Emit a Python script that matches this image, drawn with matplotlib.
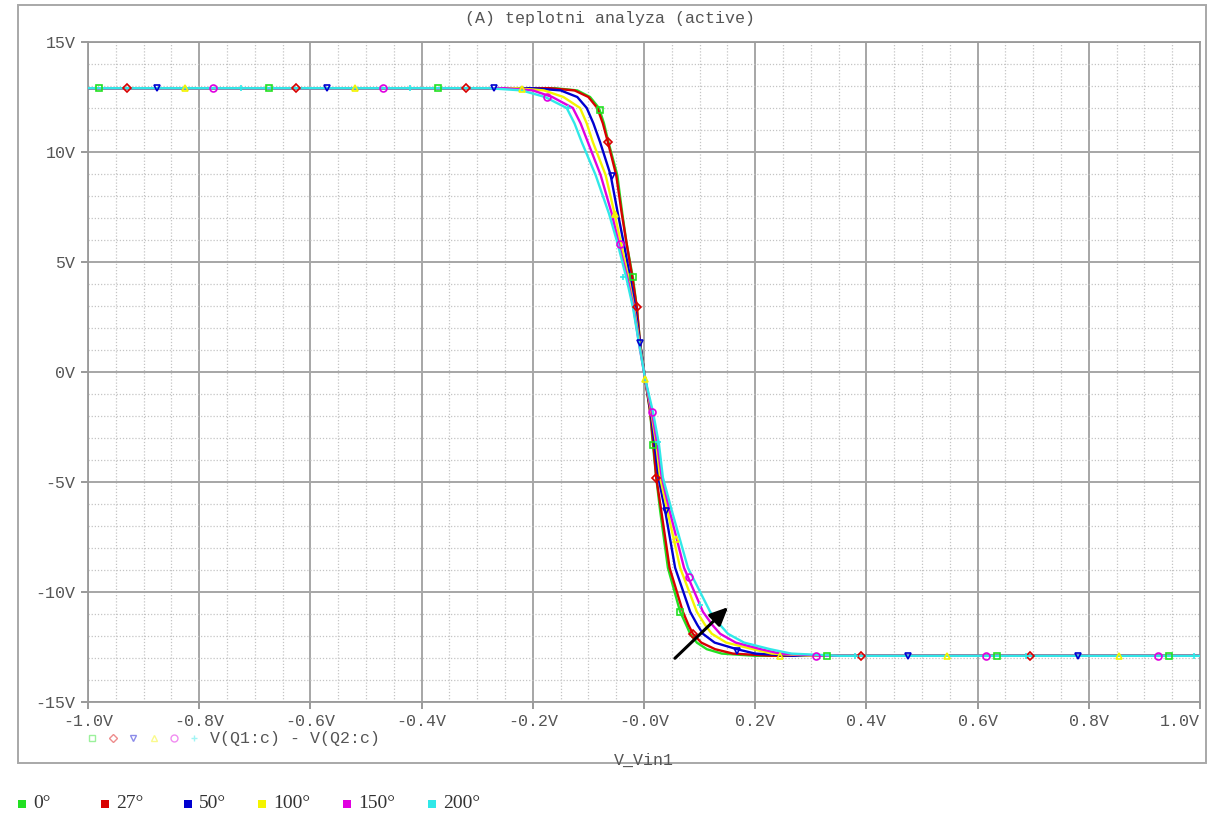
'''
    PSpice style temperature sweep of a differential pair output
'''

import numpy as np
import matplotlib.pyplot as plt
from matplotlib.patches import Rectangle

# output voltage levels (V) at which the traces were read
v_levels = [12.9, 12.8, 12.5, 12.0, 11.3, 10.45, 8.95, 7.2, 5.8, 4.3, 2.95, 1.3, -0.3,
            -1.8, -3.3, -4.8, -6.3, -8.9, -10.9, -11.5, -11.9, -12.3, -12.6, -12.8, -12.9]

# input voltage (V) where each trace reaches the levels above
x_t0 = [-0.16, -0.12, -0.097, -0.081, -0.072, -0.064, -0.048, -0.039, -0.031, -0.020, -0.013, -0.007, 0.002,
        0.011, 0.016, 0.022, 0.029, 0.043, 0.065, 0.076, 0.083, 0.095, 0.113, 0.14, 0.20]
x_t27 = [-0.17, -0.125, -0.10, -0.084, -0.074, -0.065, -0.050, -0.040, -0.031, -0.021, -0.013, -0.007, 0.002,
         0.011, 0.017, 0.022, 0.031, 0.046, 0.070, 0.080, 0.088, 0.103, 0.128, 0.16, 0.23]
x_t50 = [-0.20, -0.15, -0.12, -0.103, -0.091, -0.079, -0.060, -0.047, -0.036, -0.025, -0.016, -0.007, 0.002,
         0.012, 0.019, 0.026, 0.038, 0.056, 0.083, 0.096, 0.106, 0.127, 0.167, 0.20, 0.27]
x_t100 = [-0.23, -0.18, -0.145, -0.115, -0.103, -0.092, -0.069, -0.053, -0.041, -0.028, -0.018, -0.008, 0.002,
          0.013, 0.022, 0.029, 0.042, 0.065, 0.095, 0.110, 0.122, 0.148, 0.196, 0.23, 0.30]
x_t150 = [-0.25, -0.20, -0.165, -0.128, -0.114, -0.101, -0.078, -0.058, -0.045, -0.030, -0.019, -0.009, 0.002,
          0.014, 0.024, 0.032, 0.046, 0.072, 0.106, 0.123, 0.137, 0.165, 0.21, 0.245, 0.32]
x_t200 = [-0.28, -0.22, -0.178, -0.139, -0.125, -0.112, -0.087, -0.063, -0.047, -0.032, -0.020, -0.009, 0.002,
          0.016, 0.027, 0.034, 0.050, 0.079, 0.119, 0.137, 0.151, 0.18, 0.227, 0.265, 0.35]

# sweep end points
x_start, v_start = -1.0, 12.9
x_end, v_end = 1.0, -12.9

# trace markers as they appear in the probe window
mk_x_t0 = [-0.98, -0.675, -0.37, -0.079, -0.020, 0.016, 0.065, 0.33, 0.635, 0.945]
mk_v_t0 = [12.9, 12.9, 12.9, 11.9, 4.3, -3.3, -10.9, -12.9, -12.9, -12.9]
mk_x_t27 = [-0.93, -0.625, -0.32, -0.065, -0.013, 0.022, 0.088, 0.39, 0.695]
mk_v_t27 = [12.9, 12.9, 12.9, 10.45, 2.95, -4.8, -11.9, -12.9, -12.9]
mk_x_t50 = [-0.875, -0.57, -0.27, -0.058, -0.007, 0.040, 0.167, 0.475, 0.78]
mk_v_t50 = [12.9, 12.9, 12.9, 8.9, 1.3, -6.3, -12.7, -12.9, -12.9]
mk_x_t100 = [-0.825, -0.52, -0.22, -0.052, 0.002, 0.058, 0.245, 0.545, 0.855]
mk_v_t100 = [12.9, 12.9, 12.85, 7.2, -0.3, -7.6, -12.9, -12.9, -12.9]
mk_x_t150 = [-0.775, -0.47, -0.175, -0.043, 0.014, 0.081, 0.31, 0.615, 0.925]
mk_v_t150 = [12.9, 12.9, 12.5, 5.8, -1.8, -9.3, -12.9, -12.9, -12.9]
mk_x_t200 = [-0.725, -0.42, -0.137, -0.038, 0.025, 0.10, 0.38, 0.687, 0.99]
mk_v_t200 = [12.9, 12.9, 12.0, 4.3, -3.2, -10.6, -12.9, -12.9, -12.9]

temp_labels = ['0°', '27°', '50°', '100°', '150°', '200°']
colors = ['#22e022', '#d80000', '#0000d0', '#f4f400', '#e000e0', '#30e8e8']
markers = ['s', 'D', 'v', '^', 'o', '+']

x_ticks = [-1.0, -0.8, -0.6, -0.4, -0.2, 0.0, 0.2, 0.4, 0.6, 0.8, 1.0]
x_tick_labels = ['-1.0V', '-0.8V', '-0.6V', '-0.4V', '-0.2V', '-0.0V',
                 '0.2V', '0.4V', '0.6V', '0.8V', '1.0V']
y_ticks = [-15, -10, -5, 0, 5, 10, 15]
y_tick_labels = ['-15V', '-10V', '-5V', '0V', '5V', '10V', '15V']

traces_x = [x_t0, x_t27, x_t50, x_t100, x_t150, x_t200]
marks_x = [mk_x_t0, mk_x_t27, mk_x_t50, mk_x_t100, mk_x_t150, mk_x_t200]
marks_v = [mk_v_t0, mk_v_t27, mk_v_t50, mk_v_t100, mk_v_t150, mk_v_t200]

mono = 'Liberation Mono'
txt_gray = '#555555'

fig = plt.figure(figsize=(12.07, 8.14), dpi=100)
ax = fig.add_axes([88 / 1207, 1 - 702 / 814, 1112 / 1207, 660 / 814])

# ------------- grid -------------
ax.set_xlim(-1.0, 1.0)
ax.set_ylim(-15, 15)
ax.set_xticks(x_ticks)
ax.set_xticklabels(x_tick_labels, family=mono, fontsize=12, color=txt_gray)
ax.get_xticklabels()[-1].set_horizontalalignment('right')
ax.set_yticks(y_ticks)
ax.set_yticklabels(y_tick_labels, family=mono, fontsize=12, color=txt_gray)
ax.set_xticks(np.arange(-1.0, 1.0001, 0.05), minor=True)
ax.set_yticks(np.arange(-15, 15.1, 1), minor=True)
ax.grid(which='minor', color='#c4c4c4', linestyle=(0, (1, 1.5)), linewidth=0.9)
ax.grid(which='major', color='#a6a6a6', linestyle='-', linewidth=1.4)
ax.tick_params(which='major', length=5, width=1.2, color='#888888', pad=4)
ax.tick_params(which='minor', length=0)
for s in ax.spines.values():
    s.set_color('#9a9a9a')
    s.set_linewidth(1.3)
ax.set_axisbelow(True)

# ------------- traces -------------
for i in range(6):
    xs = [x_start] + traces_x[i] + [x_end]
    vs = [v_start] + v_levels + [v_end]
    ax.plot(xs, vs, color=colors[i], linewidth=1.7, zorder=3 + i * 0.1)
    ax.plot(marks_x[i], marks_v[i], linestyle='none', marker=markers[i],
            markersize=5 if markers[i] != 'D' else 4, markerfacecolor='none',
            markeredgecolor=colors[i], markeredgewidth=1.2, zorder=4)

# arrow: rising temperature
ax.annotate('', xy=(0.155, -10.6), xytext=(0.052, -13.1),
            arrowprops=dict(arrowstyle='-|>,head_length=1.1,head_width=0.5',
                            color='black', linewidth=2.2), zorder=6)

# ------------- frame & texts -------------
fig.add_artist(Rectangle((18 / 1207, 1 - 763 / 814), 1188 / 1207, 758 / 814,
                         transform=fig.transFigure, fill=False,
                         edgecolor='#a8a8a8', linewidth=1.4))
fig.text(610 / 1207, 1 - 18 / 814, '(A) teplotni analyza (active)', family=mono,
         fontsize=12, color=txt_gray, ha='center', va='center')
fig.text(644 / 1207, 1 - 760 / 814, 'V_Vin1', family=mono, fontsize=12,
         color=txt_gray, ha='center', va='center')

# probe legend below the axis
leg_y = 1 - 738 / 814
for i in range(6):
    fig.lines.append(plt.Line2D([(92 + i * 20.5) / 1207], [leg_y], transform=fig.transFigure,
                                marker=markers[i], markersize=5 if markers[i] != 'D' else 4,
                                markerfacecolor='none', markeredgecolor=colors[i],
                                alpha=0.45, linestyle='none'))
fig.text(210 / 1207, leg_y, 'V(Q1:c) - V(Q2:c)', family=mono, fontsize=12,
         color=txt_gray, ha='left', va='center')

# temperature key
key_sq_x = [18, 101, 184, 258, 343, 428]
key_y = 1 - 804 / 814
for i in range(6):
    fig.add_artist(Rectangle((key_sq_x[i] / 1207, key_y - 4 / 814), 8 / 1207, 8 / 814,
                             transform=fig.transFigure, facecolor=colors[i],
                             edgecolor='none'))
    fig.text((key_sq_x[i] + 15) / 1207, key_y, temp_labels[i], family='Liberation Serif',
             fontsize=14, color='#333333', ha='left', va='center')

fig.savefig('out.png', dpi=100)
